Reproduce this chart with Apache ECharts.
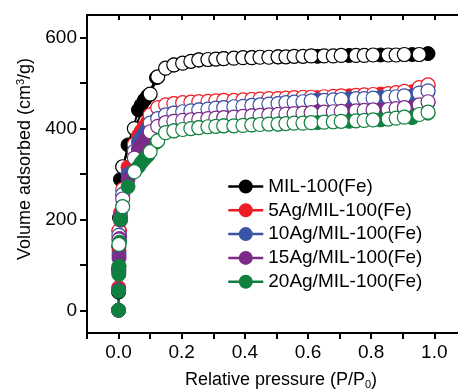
<!DOCTYPE html>
<html><head><meta charset="utf-8">
<script src="https://cdn.jsdelivr.net/npm/echarts@6/dist/echarts.min.js"></script>
<style>html,body{margin:0;padding:0;background:#fff}#c{width:458px;height:389px}</style>
</head><body><div id="c"></div>
<script>
const seriesNames = ['MIL-100(Fe)','5Ag/MIL-100(Fe)','10Ag/MIL-100(Fe)','15Ag/MIL-100(Fe)','20Ag/MIL-100(Fe)'];
const seriesColors = ['#000000','#ee1c25','#3a54a6','#7c2b89','#10803f'];

// adsorption branch (filled symbols)
const adsP = [0, 0.0003, 0.0008, 0.0015, 0.003, 0.006, 0.03, 0.063, 0.072, 0.082, 0.092, 0.12, 0.175, 0.254, 0.333, 0.422, 0.505, 0.63, 0.73, 0.83, 0.93, 0.98];
const milAdsV = [40, 90, 140, 175, 204, 288, 364, 441, 452, 463, 472, 512, 540, 551, 554, 556, 558, 559, 561, 562, 563, 565];
const ag5AdsV = [0, 50, 95, 130, 175, 215, 315, 385, 395, 405, 415, 440, 455, 459, 462, 464, 466, 468, 472, 476, 481, 494];
const ag10AdsV = [0, 45, 88, 122, 165, 205, 300, 370, 380, 390, 400, 420, 434, 441, 446, 451, 455, 463, 466, 469, 472, 481];
const ag15AdsV = [0, 43, 84, 115, 158, 198, 288, 355, 364, 373, 382, 402, 416, 420, 424, 428, 431, 437, 439, 441, 445, 457];
const ag20AdsV = [0, 42, 79, 97, 150, 200, 272, 316, 325, 333, 340, 370, 395, 402, 406, 408, 410, 413, 416, 419, 424, 434];

// desorption branch (open symbols)
const milDesP = [0.013, 0.05, 0.1, 0.124, 0.149, 0.175, 0.203, 0.229, 0.254, 0.283, 0.308, 0.333, 0.365, 0.394, 0.422, 0.448, 0.476, 0.505, 0.530, 0.556, 0.584, 0.610, 0.651, 0.68, 0.705, 0.752, 0.778, 0.806, 0.854, 0.879, 0.905, 0.952];
const milDesV = [316, 400, 476, 514, 533, 540, 544, 548, 551, 552, 553, 554, 555, 556, 556, 557, 557, 558, 558, 559, 559, 560, 560, 560, 561, 561, 561, 562, 562, 562, 563, 563];
const agDesP = [0.001, 0.013, 0.05, 0.1, 0.124, 0.149, 0.175, 0.203, 0.229, 0.254, 0.283, 0.308, 0.333, 0.365, 0.394, 0.422, 0.448, 0.476, 0.505, 0.530, 0.556, 0.584, 0.610, 0.651, 0.68, 0.705, 0.752, 0.778, 0.806, 0.854, 0.879, 0.905, 0.952, 0.98];
const ag5DesV = [175, 266, 365, 430, 446, 452, 455, 457, 458, 459, 460, 461, 462, 462, 463, 464, 465, 466, 466, 467, 468, 469, 469, 470, 471, 472, 473, 474, 475, 477, 479, 482, 490, 496];
const ag10DesV = [165, 255, 350, 412, 422, 430, 434, 437, 439, 441, 443, 445, 446, 448, 449, 451, 452, 454, 455, 457, 458, 459, 461, 462, 463, 464, 466, 466, 467, 469, 470, 472, 478, 483];
const ag15DesV = [155, 245, 335, 393, 405, 413, 416, 418, 419, 420, 422, 423, 424, 425, 427, 428, 429, 430, 431, 432, 433, 434, 435, 436, 437, 438, 439, 440, 441, 442, 444, 446, 452, 459];
const ag20DesV = [145, 228, 305, 349, 373, 391, 395, 398, 400, 402, 404, 405, 406, 406, 407, 408, 409, 410, 410, 411, 412, 412, 413, 414, 415, 416, 417, 418, 419, 421, 423, 425, 431, 436];

// axis ticks and labels
const xTickValues = [-0.1, 0, 0.1, 0.2, 0.3, 0.4, 0.5, 0.6, 0.7, 0.8, 0.9, 1.0];
const xLabelValues = [0, 0.2, 0.4, 0.6, 0.8, 1.0];
const yTickValues = [0, 100, 200, 300, 400, 500, 600];
const yLabelValues = [0, 200, 400, 600];

const FONT = '"Liberation Sans", Arial, Helvetica, sans-serif';
const adsV = [milAdsV, ag5AdsV, ag10AdsV, ag15AdsV, ag20AdsV];
const desV = [milDesV, ag5DesV, ag10DesV, ag15DesV, ag20DesV];
const desPs = [milDesP, agDesP, agDesP, agDesP, agDesP];
const zip = (xs, ys) => xs.map((x, i) => [x, ys[i]]);

const series = [];
seriesNames.forEach((name, i) => {
  const c = seriesColors[i];
  series.push({
    name, type: 'line', data: zip(adsP, adsV[i]), symbol: 'circle', symbolSize: 14,
    showAllSymbol: true, lineStyle: {color: c, width: 2},
    itemStyle: {color: c, borderColor: c, borderWidth: 1}
  });
  series.push({
    name, type: 'line', data: zip(desPs[i], desV[i]), symbol: 'circle', symbolSize: 14,
    showAllSymbol: true, lineStyle: {color: c, width: 2},
    itemStyle: {color: '#ffffff', borderColor: c, borderWidth: 1.2}
  });
});

const chart = echarts.init(document.getElementById('c'), null, {renderer: 'canvas'});
chart.setOption({
  animation: false,
  backgroundColor: '#ffffff',
  grid: {left: 87, right: 0, top: 15, bottom: 56},
  legend: {
    data: seriesNames, orient: 'vertical', left: 222, top: 172,
    itemWidth: 35, itemHeight: 15, itemGap: 4.8,
    lineStyle: {width: 2.5},
    textStyle: {fontSize: 19, color: '#000', fontFamily: FONT, lineHeight: 15}
  },
  xAxis: [{
    type: 'value', position: 'bottom', min: -0.1, max: 1.075,
    axisLine: {show: true, onZero: false, lineStyle: {color: '#000', width: 2}},
    axisTick: {show: true, inside: false, length: 6, lineStyle: {color: '#000', width: 2}, customValues: xTickValues},
    axisLabel: {show: true, customValues: xLabelValues, formatter: v => v.toFixed(1), fontSize: 19, color: '#000', fontFamily: FONT, margin: 10},
    splitLine: {show: false}
  }, {
    type: 'value', position: 'top', min: -0.1, max: 1.075,
    axisLine: {show: true, onZero: false, lineStyle: {color: '#000', width: 2}},
    axisTick: {show: true, inside: true, length: 5, lineStyle: {color: '#000', width: 2}, customValues: xTickValues},
    axisLabel: {show: false},
    splitLine: {show: false}
  }],
  yAxis: {
    type: 'value', min: -50, max: 650,
    axisLine: {show: true, onZero: false, lineStyle: {color: '#000', width: 2}},
    axisTick: {show: true, inside: false, length: 7, lineStyle: {color: '#000', width: 2}, customValues: yTickValues},
    axisLabel: {show: true, customValues: yLabelValues, fontSize: 19, color: '#000', fontFamily: FONT, margin: 10},
    splitLine: {show: false}
  },
  graphic: [{
    type: 'text', x: 281, y: 380,
    style: {
      text: '{a|Relative pressure (P/P}{s|0}{a|)}',
      align: 'center', verticalAlign: 'middle',
      rich: {
        a: {fontSize: 18, fontFamily: FONT, fill: '#000', lineHeight: 20, verticalAlign: 'middle'},
        s: {fontSize: 11, fontFamily: FONT, fill: '#000', lineHeight: 20, verticalAlign: 'bottom', padding: [8, 0, 0, 0]}
      }
    }
  }, {
    type: 'text', x: 25, y: 159, rotation: Math.PI / 2,
    style: {
      text: '{a|Volume adsorbed (cm}{s|3}{a|/g)}',
      align: 'center', verticalAlign: 'middle',
      rich: {
        a: {fontSize: 18, fontFamily: FONT, fill: '#000', lineHeight: 20, verticalAlign: 'middle'},
        s: {fontSize: 11, fontFamily: FONT, fill: '#000', lineHeight: 20, verticalAlign: 'top', padding: [0, 0, 8, 0]}
      }
    }
  }],
  series
});
</script></body></html>
